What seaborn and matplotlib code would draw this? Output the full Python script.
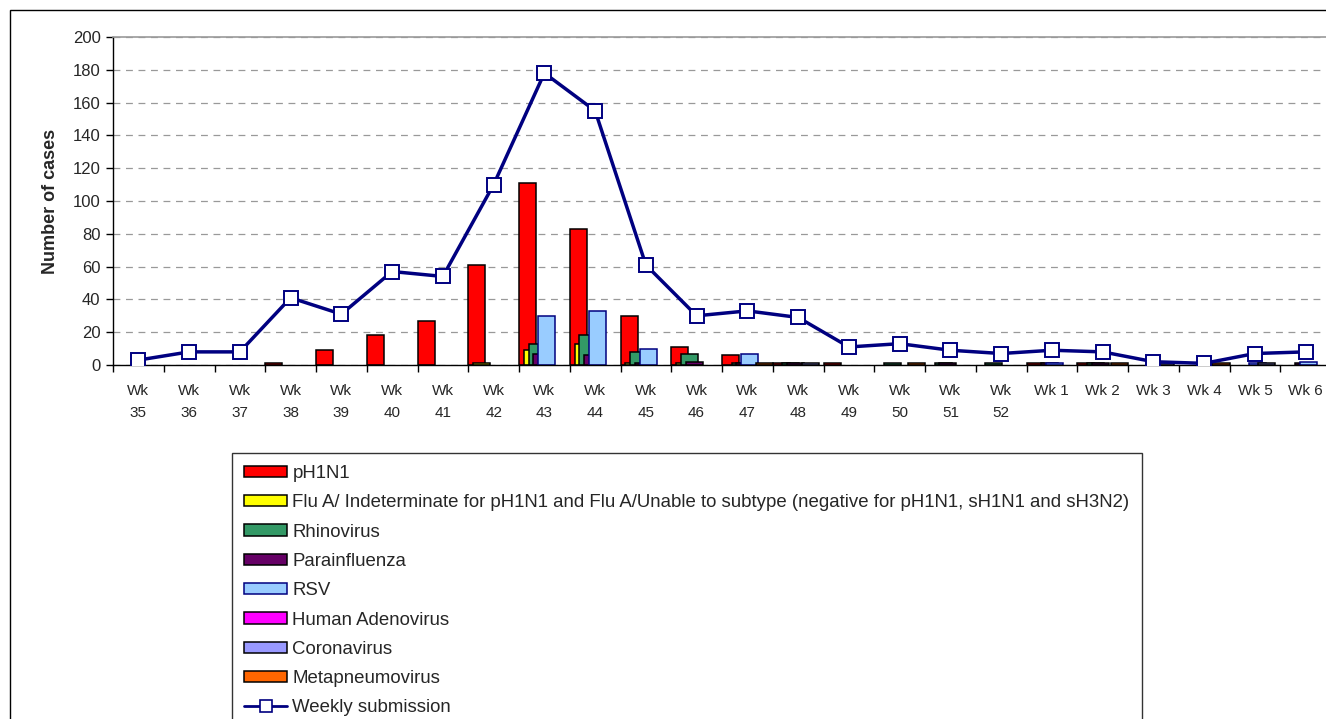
import numpy as np
import matplotlib
matplotlib.use("Agg")
import matplotlib.pyplot as plt
import seaborn as sns
from matplotlib.patches import Patch, Rectangle
from matplotlib.lines import Line2D

# weeks (35..52 then 1..6)
weeks = ['Wk\n35', 'Wk\n36', 'Wk\n37', 'Wk\n38', 'Wk\n39', 'Wk\n40', 'Wk\n41', 'Wk\n42',
         'Wk\n43', 'Wk\n44', 'Wk\n45', 'Wk\n46', 'Wk\n47', 'Wk\n48', 'Wk\n49', 'Wk\n50',
         'Wk\n51', 'Wk\n52', 'Wk 1', 'Wk 2', 'Wk 3', 'Wk 4', 'Wk 5', 'Wk 6']

ph1n1 = [0, 0, 0, 1, 9, 18, 27, 61, 111, 83, 30, 11, 6, 1, 1, 0, 0, 0, 1, 1, 0, 0, 0, 0]
flu_a = [0, 0, 0, 0, 0, 0, 0, 1, 9, 13, 1, 1, 0, 0, 0, 0, 0, 0, 0, 0, 0, 0, 0, 0]
rhino = [0, 0, 0, 0, 0, 0, 0, 0, 13, 18, 8, 7, 1, 1, 0, 1, 1, 1, 0, 1, 0, 0, 0, 0]
para = [0, 0, 0, 0, 0, 0, 0, 0, 7, 6, 1, 2, 1, 1, 0, 0, 1, 0, 1, 1, 0, 0, 0, 1]
rsv = [0, 0, 0, 0, 0, 0, 0, 0, 30, 33, 10, 0, 7, 0, 0, 0, 0, 0, 1, 0, 0, 0, 1, 2]
adeno = [0] * 24
corona = [0, 0, 0, 0, 0, 0, 0, 0, 0, 0, 0, 0, 0, 1, 0, 0, 0, 0, 0, 0, 1, 0, 1, 0]
meta = [0, 0, 0, 0, 0, 0, 0, 0, 0, 0, 0, 0, 1, 0, 0, 1, 0, 0, 0, 1, 0, 1, 0, 0]
weekly = [3, 8, 8, 41, 31, 57, 54, 110, 178, 155, 61, 30, 33, 29, 11, 13, 9, 7, 9, 8, 2, 1, 7, 8]

series_names = ['pH1N1',
                'Flu A/ Indeterminate for pH1N1 and Flu A/Unable to subtype (negative for pH1N1, sH1N1 and sH3N2)',
                'Rhinovirus', 'Parainfluenza', 'RSV', 'Human Adenovirus', 'Coronavirus', 'Metapneumovirus']
series_vals = [ph1n1, flu_a, rhino, para, rsv, adeno, corona, meta]
fills = ['#FF0000', '#FFFF00', '#339966', '#660066', '#99CCFF', '#FF00FF', '#9999FF', '#FF6600']
edges = ['black', 'black', 'black', 'black', '#000080', 'black', 'black', 'black']
navy = '#000080'

sns.set_style("white")
plt.rcParams['font.family'] = ['Liberation Sans', 'DejaVu Sans']

fig = plt.figure(figsize=(13.26, 7.19), dpi=100)
ax = fig.add_axes([113 / 1326, 1 - 365 / 719, (1331 - 113) / 1326, (365 - 37) / 719])

idx = np.arange(len(weeks))
bw = 0.335
step = (1 - bw) / 7
for k, (vals, fc, ec) in enumerate(zip(series_vals, fills, edges)):
    v = np.array(vals, dtype=float)
    m = v > 0
    ax.bar(idx[m] - 0.5 + k * step, v[m], width=bw, align='edge', color=fc,
           edgecolor=ec, linewidth=1.1, zorder=2)

sns.lineplot(x=idx, y=weekly, ax=ax, color=navy, linewidth=2.5, marker='s',
             markersize=10, markerfacecolor='white', markeredgecolor=navy,
             markeredgewidth=1.4, zorder=5)

ax.set_xlim(-0.5, len(weeks) - 0.5)
ax.set_ylim(0, 200)
ax.set_yticks(np.arange(0, 201, 20))
ax.yaxis.grid(True, color='#999999', linestyle=(0, (5.5, 4.5)), linewidth=0.9, zorder=0)
ax.set_axisbelow(True)

ax.set_xticks(idx)
ax.set_xticklabels(weeks, fontsize=11, linespacing=1.7, va='top')
ax.set_xticks(np.arange(len(weeks) + 1) - 0.5, minor=True)
ax.tick_params(axis='x', which='major', length=0, pad=14)
ax.tick_params(axis='x', which='minor', length=5, width=1, color='black', direction='out', bottom=True)
ax.tick_params(axis='y', length=5, width=1, color='black', direction='out', left=True, labelsize=12, pad=4)
ax.set_xlabel('')
ax.set_ylabel('Number of cases', fontsize=13, fontweight='bold')
ax.yaxis.set_label_coords(-0.044, 0.5)

for s in ['left', 'bottom']:
    ax.spines[s].set_color('black')
    ax.spines[s].set_linewidth(1)
ax.spines['top'].set_color('#999999')
ax.spines['top'].set_linewidth(1.2)
ax.spines['right'].set_visible(False)

handles = [Patch(facecolor=fc, edgecolor=ec, linewidth=1.1) for fc, ec in zip(fills, edges)]
handles.append(Line2D([], [], color=navy, linewidth=2, marker='s', markersize=9,
                      markerfacecolor='white', markeredgecolor=navy, markeredgewidth=1.2))
labels = series_names + ['Weekly submission']
leg = fig.legend(handles, labels, loc='upper left', bbox_to_anchor=(232 / 1326, 1 - 453 / 719),
                 bbox_transform=fig.transFigure, borderaxespad=0, fontsize=13.4,
                 frameon=True, fancybox=False, edgecolor='black', handlelength=2.3,
                 handleheight=0.55, handletextpad=0.3, labelspacing=0.66, borderpad=0.65)
leg.get_frame().set_linewidth(1)

fig.patches.append(Rectangle((10 / 1326, -0.1), 1.2, 1.1 - 10 / 719, transform=fig.transFigure,
                             fill=False, edgecolor='black', linewidth=1, clip_on=False))

fig.savefig('out.png', dpi=100)
